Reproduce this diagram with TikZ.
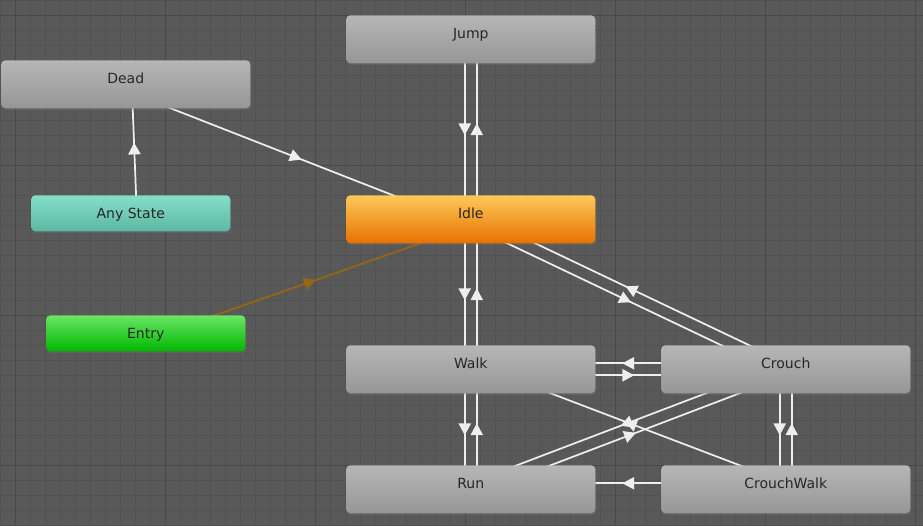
\documentclass[tikz,border=0pt]{standalone}
\usepackage{fontspec}
\setmainfont{DejaVu Sans}
\usepackage{xcolor}
\definecolor{gridbg}{RGB}{89,89,89}
\definecolor{gridminor}{RGB}{82,82,82}
\definecolor{gridmajor}{RGB}{73,73,73}
\definecolor{graytop}{RGB}{182,182,182}
\definecolor{graybot}{RGB}{150,150,150}
\definecolor{idletop}{RGB}{254,200,90}
\definecolor{idlebot}{RGB}{230,114,0}
\definecolor{anytop}{RGB}{134,222,200}
\definecolor{anybot}{RGB}{92,184,164}
\definecolor{entrytop}{RGB}{107,229,102}
\definecolor{entrybot}{RGB}{0,184,0}
\definecolor{transwhite}{RGB}{238,238,238}
\definecolor{entrybrown}{RGB}{150,102,20}
\usepackage{tikz}
\usetikzlibrary{calc, decorations.markings, shadows}
\pgfdeclarelayer{grid}
\pgfdeclarelayer{edges}
\pgfsetlayers{grid,edges,main}

\begin{document}
\begin{tikzpicture}[x=0.75pt, y=-0.75pt,
  state/.style={rectangle, rounded corners=3pt, inner sep=0pt, anchor=north west,
    minimum width=186.75pt, minimum height=36pt, text height=8pt, text depth=9.5pt,
    top color=graytop, bottom color=graybot, text=black!85,
    font=\fontsize{10.5}{12}\selectfont,
    drop shadow={opacity=0.25, shadow xshift=0.8pt, shadow yshift=-1.2pt}},
  smallstate/.style={minimum width=149.25pt, minimum height=27pt,
    text height=7.5pt, text depth=0pt},
  transition/.style={line width=1.3pt, draw=#1, postaction={decorate},
    decoration={markings, mark=at position 0.5 with
      {\fill[#1] (4.4pt,0) -- (-4.4pt,4.75pt) -- (-4.4pt,-4.75pt) -- cycle;}}},
  transition/.default=transwhite]

  \useasboundingbox (0,0) rectangle (923,526);

  % Grid
  \begin{pgfonlayer}{grid}
    \fill[gridbg] (0,0) rectangle (923,526);
    \foreach \x in {0,15,...,915} \draw[gridminor, line width=0.75pt] (\x,0) -- (\x,526);
    \foreach \y in {0,15,...,525} \draw[gridminor, line width=0.75pt] (0,\y) -- (923,\y);
    \foreach \x in {15,165,...,915} \draw[gridmajor, line width=0.75pt] (\x,0) -- (\x,526);
    \foreach \y in {15,165,...,465} \draw[gridmajor, line width=0.75pt] (0,\y) -- (923,\y);
  \end{pgfonlayer}

  % States
  \node[state] (jump) at (346,15) {Jump};
  \node[state] (dead) at (1,60) {Dead};
  \node[state, smallstate, top color=anytop, bottom color=anybot] (anystate) at (31,195) {Any State};
  \node[state, top color=idletop, bottom color=idlebot] (idle) at (346,195) {Idle};
  \node[state, smallstate, top color=entrytop, bottom color=entrybot] (entry) at (46,315) {Entry};
  \node[state] (walk) at (346,345) {Walk};
  \node[state] (crouch) at (661,345) {Crouch};
  \node[state] (run) at (346,465) {Run};
  \node[state] (crouchwalk) at (661,465) {CrouchWalk};

  % Transitions
  \begin{pgfonlayer}{edges}
    \foreach \a/\b in {jump/idle, idle/jump, idle/walk, walk/idle, walk/run, run/walk,
        idle/crouch, crouch/idle, walk/crouch, crouch/walk, crouch/crouchwalk, crouchwalk/crouch,
        crouch/run, run/crouch, crouchwalk/walk, crouchwalk/run, dead/idle, anystate/dead}
      \draw[transition] ($(\a.center)!4.5pt!-90:(\b.center)$) -- ($(\b.center)!4.5pt!90:(\a.center)$);
    \draw[transition=entrybrown] ($(entry.center)!4.5pt!-90:(idle.center)$) -- ($(idle.center)!4.5pt!90:(entry.center)$);
  \end{pgfonlayer}

\end{tikzpicture}
\end{document}
